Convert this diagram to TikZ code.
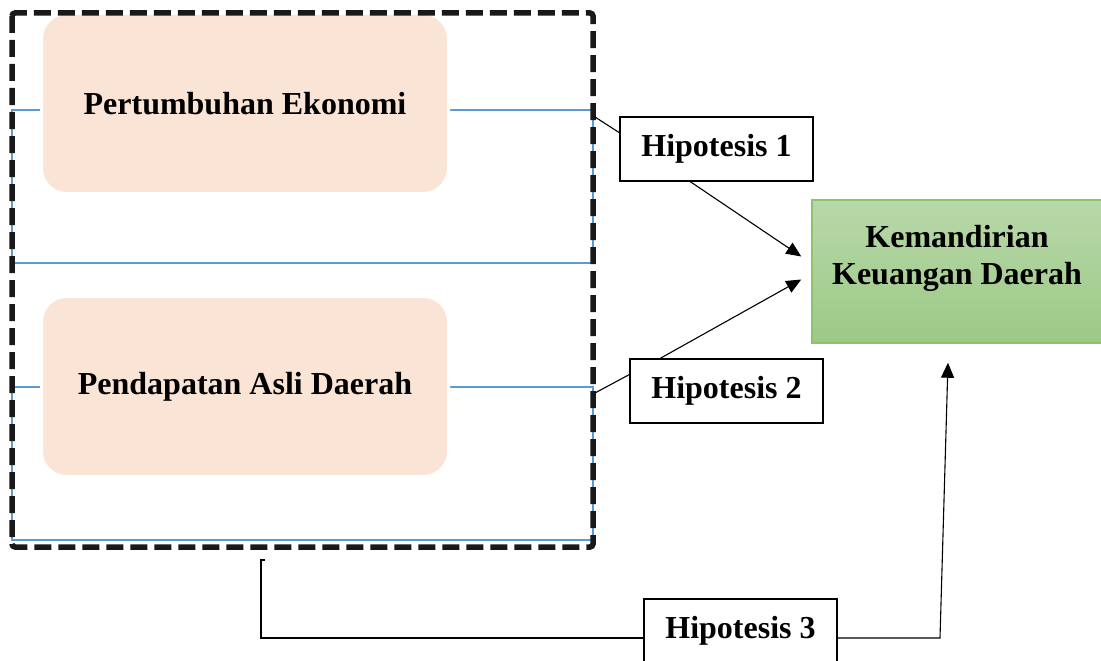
\documentclass[tikz,border=0pt]{standalone}
\usepackage{fontspec}
\setmainfont{Liberation Serif}
\usetikzlibrary{arrows.meta,calc}
\definecolor{varfill}{RGB}{250,228,214}
\definecolor{linkblue}{RGB}{91,155,213}
\definecolor{greentop}{RGB}{184,216,170}
\definecolor{greenbot}{RGB}{156,201,134}
\definecolor{greenline}{RGB}{141,194,111}
\newcommand{\bigbold}{\fontsize{32}{37}\selectfont\bfseries}

\begin{document}
\begin{tikzpicture}[
    x = 1pt,
    y = -1pt,
    >={Triangle[length=15pt, width=13pt]},
    var/.style = {rectangle, rounded corners=25pt, fill=varfill, draw=white,
              line width=3pt, minimum width=407pt, minimum height=180pt,
              font=\bigbold},
    hyp/.style = {rectangle, draw=black, fill=white, line width=1.6pt,
              minimum width=193pt, minimum height=64pt, font=\bigbold},
    link/.style = {linkblue, line width=2.8pt},
    ]

\useasboundingbox (0,0) rectangle (1101,661);

\draw [link] (12,110) rectangle (593,263);
\draw [link] (12,387) rectangle (593,540);

\node[var] (var_1) at (245,103.5){Pertumbuhan Ekonomi};
\node[var] (var_2) at (245,386.5){Pendapatan Asli Daerah};

\draw [black!90, line width=5.5pt, dash pattern=on 17pt off 7pt,
       rounded corners=3pt] (12,13) rectangle (593,547);

\node[rectangle, draw=greenline, line width=1.5pt, top color=greentop,
      bottom color=greenbot, minimum width=292pt, minimum height=143pt]
      (kkd) at (958,271.5){};
\node[font=\bigbold, align=center] (kkd_text) at (957,258){Kemandirian\\Keuangan Daerah};

\node[hyp] (hyp_1) at (716.5,149){Hipotesis 1};
\node[hyp] (hyp_2) at (726.5,391){Hipotesis 2};
\node[hyp] (hyp_3) at (740.5,631){Hipotesis 3};

\coordinate (tap_1) at (595,117);
\coordinate (tap_2) at (595,393);
\coordinate (tap_3) at (265,560);
\coordinate (bend_3) at (940,638);

\draw [black, line width=1.1pt] (tap_1) -- ($(hyp_1.north west)!0.25!(hyp_1.south west)$);
\draw [->, black, line width=1.1pt] ([xshift=-26pt]hyp_1.south) -- ([xshift=-10pt, yshift=15pt]kkd.west);
\draw [black, line width=1.1pt] (tap_2) -- ($(hyp_2.north west)!0.25!(hyp_2.south west)$);
\draw [->, black, line width=1.1pt] ([xshift=-66pt]hyp_2.north) -- ([xshift=-10pt, yshift=-8pt]kkd.west);
\draw [black, line width=1.1pt] (tap_3) -- ++(-4,0) |- ([yshift=-7pt]hyp_3.west);
\draw [->, black, line width=1.1pt] ([yshift=-7pt]hyp_3.east) -- (bend_3) -- ([xshift=-10pt, yshift=-19pt]kkd.south);

\end{tikzpicture}
\end{document}
